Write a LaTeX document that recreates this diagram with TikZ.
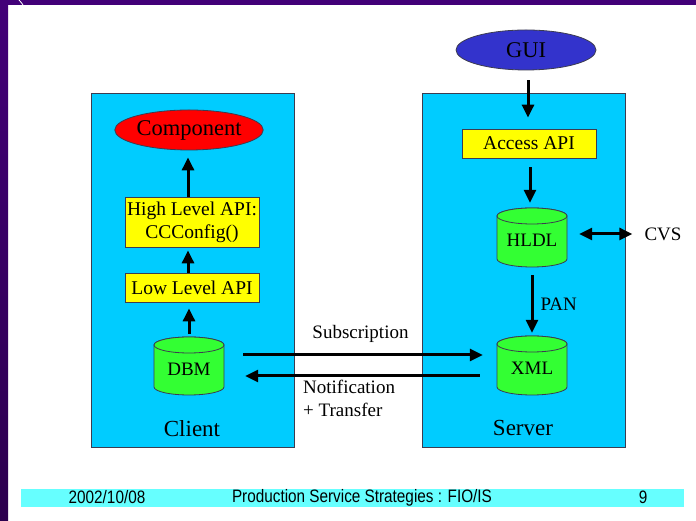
\documentclass[tikz,border=0pt]{standalone}
\usepackage{fontspec}
\setmainfont{Liberation Serif}
\newfontfamily\footfont[FakeStretch=0.85]{Liberation Sans}
\usetikzlibrary{shapes.geometric,arrows.meta}
\definecolor{framepurple}{RGB}{66,0,120}
\definecolor{framedark}{RGB}{44,0,78}
\definecolor{panelblue}{RGB}{0,204,255}
\definecolor{boxyellow}{RGB}{255,255,0}
\definecolor{dbgreen}{RGB}{51,255,51}
\definecolor{compred}{RGB}{255,0,0}
\definecolor{guiblue}{RGB}{51,51,204}
\definecolor{footcyan}{RGB}{102,255,255}
\definecolor{edge}{RGB}{60,60,80}
\tikzset{
  panel/.style={draw=edge,line width=0.8pt,fill=panelblue},
  apibox/.style={draw=edge,line width=0.8pt,fill=boxyellow,minimum width=134pt,inner sep=0pt,align=center,font=\fontsize{19.5}{23}\selectfont},
  oval/.style={ellipse,draw=edge,line width=0.8pt,minimum width=140pt,minimum height=40pt,inner sep=0pt,font=\fontsize{22.5}{26}\selectfont},
  dblabel/.style={inner sep=0pt,font=\fontsize{19}{22}\selectfont},
  plain/.style={inner sep=0pt,font=\fontsize{19}{23}\selectfont,align=left},
  biglabel/.style={inner sep=0pt,font=\fontsize{23}{26}\selectfont},
  flow/.style={line width=3pt,-{Triangle[length=13pt,width=12pt]}},
  flowboth/.style={line width=3pt,{Triangle[length=13pt,width=12pt]}-{Triangle[length=13pt,width=12pt]}},
  cylbody/.style={draw=edge,line width=0.8pt,fill=dbgreen},
  foot/.style={inner sep=0pt,font=\footfont\fontsize{18}{20}\selectfont}
}
% cylinder: #1 name, #2 cx, #3 top Y, #4 bottom Y, #5 text
\newcommand\dbcyl[5]{%
  \path[cylbody] (#2-35,#3-8) -- (#2-35,#4+8)
     arc[start angle=180,end angle=360,x radius=35,y radius=8]
     -- (#2+35,#3-8)
     arc[start angle=0,end angle=180,x radius=35,y radius=8] -- cycle;
  \path[cylbody] (#2,#3-8) ellipse[x radius=35,y radius=8];
  \node[dblabel,minimum width=70pt,minimum height=#3-#4 pt] (#1) at (#2,{(#3+#4)/2-3}) {#5};
}
\begin{document}
\begin{tikzpicture}[x=1pt,y=1pt]
\useasboundingbox (0,0) rectangle (696,521);
\fill[white] (0,0) rectangle (696,521);
% frame
\shade[top color=framepurple,bottom color=framedark] (0,0) rectangle (8,521);
\fill[framepurple] (0,516) rectangle (696,521);
\draw[white,line width=0.8pt] (19,521) .. controls (21,519) and (22,517.5) .. (23,516);
% panels
\path[panel] (91,74) rectangle (294,428) node[pos=0,inner sep=0pt] (client) {};
\path[panel] (422,74) rectangle (625,428) node[pos=0,inner sep=0pt] (server) {};
% client side
\node[oval,fill=compred] (comp) at (189,391) {Component};
\node[apibox,minimum height=50pt] (high) at (192,299) {High Level API:\\CCConfig()};
\node[apibox,minimum height=29pt] (low) at (192,233.5) {Low Level API};
\dbcyl{dbm}{189}{184}{126}{DBM}
% server side
\node[oval,fill=guiblue] (gui) at (526,471) {GUI};
\node[apibox,minimum height=29pt] (access) at (529,377.5) {Access API};
\dbcyl{hldl}{532}{313}{254}{HLDL}
\dbcyl{xml}{532}{185}{126}{XML}
\node[plain] (cvs) at (663,287) {CVS};
% arrows client
\draw[flow,shorten >=7pt] (high.north -| 188,0) -- (comp.south -| 188,0);
\draw[flow,shorten >=3pt] (low.north -| 188,0) -- (high.south -| 188,0);
\draw[flow,shorten <=6pt,shorten >=6pt] (dbm.north -| 189,0) -- (low.south -| 189,0);
% arrows server
\draw[flow,shorten <=10pt,shorten >=11pt] (gui.south -| 528,0) -- (access.north -| 528,0);
\draw[flow,shorten <=9pt,shorten >=8pt] (access.south -| 530,0) -- (hldl.north -| 530,0);
\draw[flow,shorten <=5pt,shorten >=6pt] (hldl.south -| 532,0) -- node[plain,right=7pt] (pan) {PAN} (xml.north -| 532,0);
\draw[flowboth,shorten <=12pt,shorten >=12pt] (hldl.east |- 0,287) -- (cvs.west |- 0,287);
% cross arrows
\draw[flow,shorten <=19pt,shorten >=14pt] (dbm.east |- 0,166) -- node[plain,above=11pt] (sub) {Subscription} (xml.west |- 0,166);
\draw[flow,shorten <=17pt,shorten >=21pt] (xml.west |- 0,145) -- (dbm.east |- 0,145);
\node[plain,anchor=north west] (notif) at (303,141) {Notification\\+ Transfer};
% panel labels
\node[biglabel] (clientlbl) at (192,92) {Client};
\node[biglabel] (serverlbl) at (523,93) {Server};
% footer
\fill[footcyan] (21,14) rectangle (684,32);
\node[foot] (date) at (107,23.5) {2002/10/08};
\node[foot] (title) at (362,23.5) {Production Service Strategies : FIO/IS};
\node[foot] (page) at (643,23.5) {9};
\end{tikzpicture}
\end{document}
